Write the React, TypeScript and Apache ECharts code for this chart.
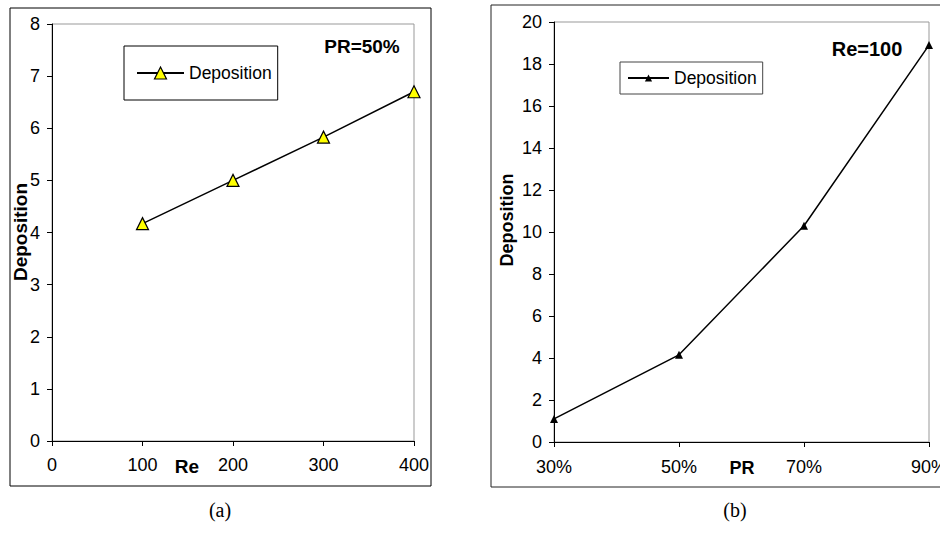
import React, { useEffect, useRef } from "react";
import * as echarts from "echarts";

const reValues = [100, 200, 300, 400];
const depositionA = [4.17, 5.0, 5.83, 6.7];
const prCategories = ["30%", "50%", "70%", "90%"];
const depositionB = [1.1, 4.15, 10.3, 18.9];
const seriesName = "Deposition";
const labelA = "PR=50%";
const labelB = "Re=100";

const FONT = "'Liberation Sans', Arial, sans-serif";

export default function App() {
  const ref = useRef<HTMLDivElement>(null);
  useEffect(() => {
    document.body.style.margin = "0";
    const chart = echarts.init(ref.current!, null, { renderer: "svg" });
    const axisCommon = {
      axisLine: { show: true, lineStyle: { color: "#000", width: 1 } },
      axisTick: { show: true, inside: false, length: 5, lineStyle: { color: "#000" } },
      splitLine: { show: false },
      axisLabel: { color: "#000", fontSize: 18, fontFamily: FONT },
    };
    const option: any = {
      animation: false,
      backgroundColor: "#fff",
      grid: [
        { left: 52, top: 24, width: 362, height: 417, show: true, borderColor: "#999", borderWidth: 1, backgroundColor: "transparent", outerBoundsMode: "none", containLabel: false },
        { left: 554, top: 22, width: 375, height: 420, show: true, borderColor: "#999", borderWidth: 1, backgroundColor: "transparent", outerBoundsMode: "none", containLabel: false },
      ],
      xAxis: [
        { ...axisCommon, type: "value", gridIndex: 0, min: 0, max: 400, interval: 100, axisLabel: { ...axisCommon.axisLabel, margin: 15 } },
        { ...axisCommon, type: "category", gridIndex: 1, data: prCategories, boundaryGap: false, axisLabel: { ...axisCommon.axisLabel, margin: 16, interval: 0 }, axisTick: { ...axisCommon.axisTick, interval: 0 } },
      ],
      yAxis: [
        { ...axisCommon, type: "value", gridIndex: 0, min: 0, max: 8, interval: 1, axisLabel: { ...axisCommon.axisLabel, margin: 12 } },
        { ...axisCommon, type: "value", gridIndex: 1, min: 0, max: 20, interval: 2, axisLabel: { ...axisCommon.axisLabel, margin: 12 } },
      ],
      legend: [
        {
          left: 124, top: 46, orient: "vertical", selectedMode: false,
          padding: [18, 6, 18, 12], borderColor: "#000", borderWidth: 1,
          itemWidth: 47, itemHeight: 15,
          textStyle: { fontSize: 17.5, fontFamily: FONT, color: "#000" },
          data: [{ name: seriesName, itemStyle: { color: "#ffff00", borderColor: "#000", borderWidth: 1.2 } }],
        },
        {
          left: 620, top: 62, orient: "vertical", selectedMode: false,
          padding: [7, 6, 7, 7], borderColor: "#444", borderWidth: 1,
          itemWidth: 41, itemHeight: 9,
          textStyle: { fontSize: 17.5, fontFamily: FONT, color: "#000" },
          data: [{ name: seriesName, itemStyle: { color: "#000", borderColor: "#000", borderWidth: 0 } }],
        },
      ],
      series: [
        {
          name: seriesName, type: "line", xAxisIndex: 0, yAxisIndex: 0,
          data: reValues.map((x, i) => [x, depositionA[i]]),
          symbol: "triangle", symbolSize: 12, clip: false,
          lineStyle: { color: "#000", width: 1.5 },
          itemStyle: { color: "#ffff00", borderColor: "#000", borderWidth: 1.2 },
          z: 5,
        },
        {
          name: seriesName, type: "line", xAxisIndex: 1, yAxisIndex: 1,
          data: depositionB,
          symbol: "triangle", symbolSize: 8, clip: false,
          lineStyle: { color: "#000", width: 1.5 },
          itemStyle: { color: "#000", borderColor: "#000", borderWidth: 0 },
          z: 5,
        },
      ],
      graphic: [
        { type: "rect", shape: { x: 10, y: 8, width: 421, height: 478 }, style: { fill: "none", stroke: "#000", lineWidth: 1 }, z: 1 },
        { type: "rect", shape: { x: 491, y: 5, width: 460, height: 482 }, style: { fill: "none", stroke: "#222", lineWidth: 1 }, z: 1 },
        { type: "text", x: 362, y: 46, style: { text: labelA, font: `bold 19px ${FONT}`, fill: "#000", align: "center", verticalAlign: "middle" }, z: 10 },
        { type: "text", x: 867, y: 49, style: { text: labelB, font: `bold 20px ${FONT}`, fill: "#000", align: "center", verticalAlign: "middle" }, z: 10 },
        { type: "text", x: 187, y: 466, style: { text: "Re", font: `bold 19px ${FONT}`, fill: "#000", align: "center", verticalAlign: "middle" }, z: 10 },
        { type: "text", x: 742, y: 468, style: { text: "PR", font: `bold 18px ${FONT}`, fill: "#000", align: "center", verticalAlign: "middle" }, z: 10 },
        { type: "text", x: 20, y: 232, rotation: Math.PI / 2, style: { text: "Deposition", font: `bold 19px ${FONT}`, fill: "#000", align: "center", verticalAlign: "middle" }, z: 10 },
        { type: "text", x: 507, y: 220, rotation: Math.PI / 2, style: { text: "Deposition", font: `bold 18px ${FONT}`, fill: "#000", align: "center", verticalAlign: "middle" }, z: 10 },
        { type: "text", x: 220, y: 510, style: { text: "(a)", font: `20px 'Liberation Serif', 'Times New Roman', serif`, fill: "#000", align: "center", verticalAlign: "middle" }, z: 10 },
        { type: "text", x: 735, y: 510, style: { text: "(b)", font: `20px 'Liberation Serif', 'Times New Roman', serif`, fill: "#000", align: "center", verticalAlign: "middle" }, z: 10 },
      ],
    };
    chart.setOption(option);
    return () => chart.dispose();
  }, []);
  return <div ref={ref} style={{ width: 940, height: 533 }} />;
}
